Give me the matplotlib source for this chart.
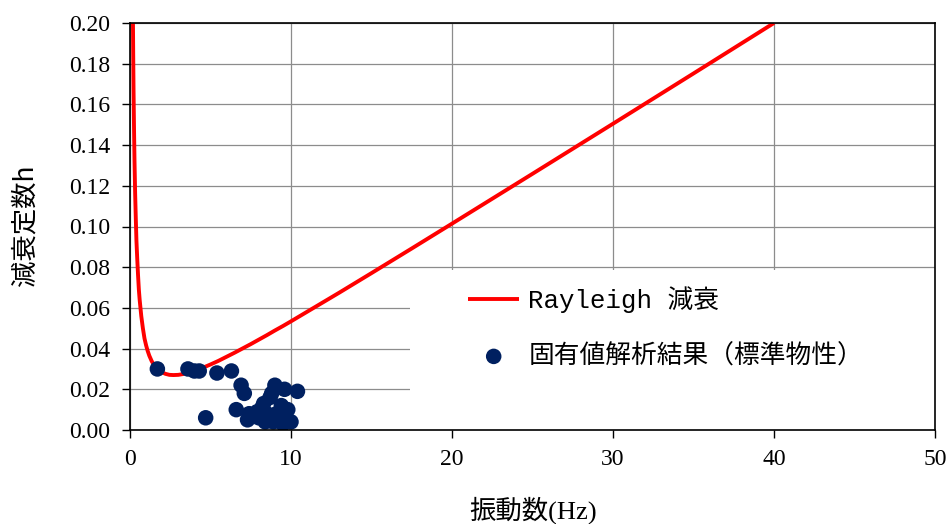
import matplotlib
matplotlib.use("Agg")
import matplotlib.pyplot as plt
from matplotlib.patches import Rectangle

# ─── Data ─────────────────────────────────────────────────────────────────────

# Rayleigh damping curve, sampled points
ray_f = [0.18, 0.20, 0.22, 0.25, 0.28, 0.32, 0.36, 0.40, 0.45, 0.50, 0.55, 0.60,
         0.70, 0.80, 0.90, 1.0, 1.1, 1.2, 1.35, 1.5, 1.65, 1.8, 2.0, 2.2, 2.45,
         2.7, 3.0, 3.3, 3.6, 4.0, 4.5, 5.0, 5.5, 6.0, 6.5, 7.0, 7.5, 8.0, 8.5,
         9.0, 9.5, 10.0, 11.0, 12.0, 13.0, 15.0, 17.5, 20.0, 25.0, 30.0, 35.0,
         40.0]
ray_h = [0.204, 0.184, 0.167, 0.148, 0.132, 0.116, 0.104, 0.093, 0.084, 0.076,
         0.069, 0.064, 0.056, 0.050, 0.045, 0.0416, 0.0388, 0.0365, 0.0338,
         0.0319, 0.0304, 0.0293, 0.0283, 0.0276, 0.0271, 0.0270, 0.0271,
         0.0275, 0.0281, 0.0291, 0.0305, 0.0322, 0.0340, 0.0360, 0.0380,
         0.0401, 0.0422, 0.0444, 0.0466, 0.0489, 0.0511, 0.0534, 0.0581,
         0.0628, 0.0675, 0.0771, 0.0892, 0.1014, 0.1259, 0.1505, 0.1752,
         0.2000]

# eigenvalue analysis results (standard properties)
eig_f = [1.7, 3.6, 4.0, 4.3, 5.4, 6.3, 6.9, 7.1, 4.7, 6.6, 7.3, 7.6, 7.9, 8.3,
         8.5, 8.7, 8.9, 9.0, 9.1, 9.4, 9.5, 9.6, 9.8, 10.0, 10.4, 8.2, 8.8,
         9.3, 7.4, 8.0, 8.4, 9.0]
eig_h = [0.030, 0.030, 0.029, 0.029, 0.028, 0.029, 0.022, 0.018, 0.006, 0.010,
         0.005, 0.007, 0.009, 0.013, 0.008, 0.016, 0.004, 0.022, 0.008, 0.012,
         0.003, 0.020, 0.010, 0.004, 0.019, 0.011, 0.018, 0.006, 0.008, 0.006,
         0.004, 0.005]

xticks = [0, 10, 20, 30, 40, 50]
yticks = [0.00, 0.02, 0.04, 0.06, 0.08, 0.10, 0.12, 0.14, 0.16, 0.18, 0.20]

RED = "#FF0000"
NAVY = "#002060"
CJK = ["Noto Sans CJK JP", "DejaVu Sans"]
SERIF = ["Liberation Serif", "Noto Sans CJK JP"]
LEGEND_FONT = ["Liberation Mono", "Noto Sans CJK JP"]

# ─── Chart ────────────────────────────────────────────────────────────────────

fig = plt.figure(figsize=(9.52, 5.24), dpi=100)
ax = fig.add_axes([130 / 952, 94 / 524, 805 / 952, 407 / 524])

ax.set_axisbelow(True)
ax.grid(True, color="#8C8C8C", linewidth=0.9)

# white legend area hiding the grid in the lower right
ax.add_patch(Rectangle((0.348, 0.0), 0.652, 0.393, transform=ax.transAxes,
                       facecolor="white", edgecolor="none", zorder=1))

line, = ax.plot(ray_f, ray_h, color=RED, linewidth=2.8, zorder=2,
                solid_capstyle="butt", solid_joinstyle="round")
sc = ax.scatter(eig_f, eig_h, s=125, color=NAVY, edgecolors="none", zorder=3)

ax.set_xlim(0, 50)
ax.set_ylim(0, 0.20)
ax.set_xticks(xticks)
ax.set_yticks(yticks)
ax.set_xticklabels([str(t) for t in xticks])
ax.set_yticklabels([f"{t:.2f}" for t in yticks])
for lab in ax.get_xticklabels() + ax.get_yticklabels():
    lab.set_family(SERIF)
    lab.set_fontsize(17)
ax.tick_params(direction="out", length=6, width=1, color="black")
ax.tick_params(axis="x", pad=8)
ax.tick_params(axis="y", pad=8)
for sp in ax.spines.values():
    sp.set_linewidth(1.2)
    sp.set_color("black")
    sp.set_zorder(5)

fig.text(533 / 952, 1 - 510 / 524, "振動数(Hz)", family=["Liberation Serif", "Noto Sans CJK JP"],
         fontsize=19, ha="center", va="center")
fig.text(25 / 952, 1 - 225 / 524, "減衰定数h", family=CJK, fontsize=19,
         rotation=90, ha="center", va="center")

ax.legend([line, sc], ["Rayleigh 減衰", "固有値解析結果（標準物性）"],
          loc="upper left", bbox_to_anchor=(468 / 952, 1 - 286 / 524),
          bbox_transform=fig.transFigure, frameon=False, borderpad=0,
          borderaxespad=0, handlelength=2.0, handletextpad=0.35,
          labelspacing=1.2, prop={"family": LEGEND_FONT, "size": 18.5})

plt.savefig("out.png", dpi=100)
plt.close()
